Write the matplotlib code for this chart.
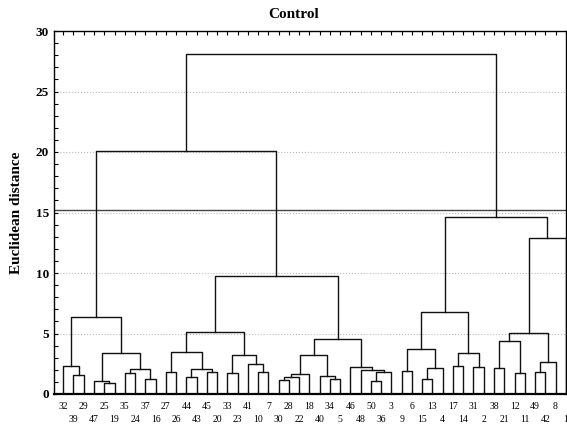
import matplotlib.pyplot as plt
from matplotlib.ticker import MultipleLocator

plt.rcParams['font.family'] = ['Liberation Serif', 'DejaVu Serif']

# case numbers in the order they sit along the x axis
leaf_order = [32, 39, 29, 47, 25, 19, 35, 24, 37, 16,
              27, 26, 44, 43, 45, 20, 33, 23, 41, 10,
              7, 30, 28, 22, 18, 40, 34, 5, 46, 48,
              50, 36, 3, 9, 6, 15, 13, 4, 17, 14,
              31, 2, 38, 21, 12, 11, 49, 42, 8, 1]

# joining steps: left member, right member, linkage distance.
# members below 100 are case numbers, 100 + k is the cluster made in step k
join_left = [25, 47, 39, 32, 35, 37, 104, 101, 103,
             27, 44, 45, 110, 109, 33, 10, 41, 114, 113,
             30, 119, 120, 34, 40, 121, 50, 125, 48, 46, 124, 118, 108,
             9, 15, 133, 132, 17, 31, 136, 135, 38, 12, 140, 49, 143, 142, 145, 139, 131]
join_right = [19, 100, 29, 102, 24, 16, 105, 106, 107,
              26, 43, 20, 111, 112, 23, 7, 115, 116, 117,
              28, 22, 18, 5, 122, 123, 36, 3, 126, 127, 128, 129, 130,
              6, 13, 4, 134, 14, 2, 137, 138, 21, 11, 141, 42, 8, 144, 1, 146, 147]
join_dist = [0.94, 1.05, 1.55, 2.35, 1.71, 1.27, 2.04, 3.40, 6.35,
             1.79, 1.40, 1.79, 2.07, 3.44, 1.76, 1.79, 2.45, 3.22, 5.15,
             1.16, 1.40, 1.62, 1.24, 1.49, 3.25, 1.08, 1.82, 2.00, 2.26, 4.52, 9.78, 20.08,
             1.87, 1.27, 2.18, 3.69, 2.31, 2.23, 3.36, 6.80, 2.15, 1.74, 4.38, 1.79, 2.64,
             5.01, 12.92, 14.63, 28.10]

cut_level = 15.2

fig = plt.figure(figsize=(5.67, 4.26), dpi=100)
ax = fig.add_axes([54 / 567, 32 / 426, 512 / 567, 363 / 426])

xpos = {leaf: i for i, leaf in enumerate(leaf_order)}
ypos = {leaf: 0.0 for leaf in leaf_order}
for k, (a, b, d) in enumerate(zip(join_left, join_right, join_dist)):
    xa, xb = xpos[a], xpos[b]
    ax.plot([xa, xa, xb, xb], [ypos[a], d, d, ypos[b]],
            color='#111111', lw=1.0, zorder=3)
    xpos[100 + k] = (xa + xb) / 2
    ypos[100 + k] = d

ax.axhline(cut_level, color='#444444', lw=1.0, zorder=2)
for g in range(5, 30, 5):
    ax.axhline(g, color='#bbbbbb', lw=0.8, ls=':', zorder=1)

ax.set_xlim(-0.9, 49.02)
ax.set_ylim(0, 30)

ax.yaxis.set_major_locator(MultipleLocator(5))
ax.yaxis.set_minor_locator(MultipleLocator(1))
ax.tick_params(axis='y', which='both', direction='in', length=3, width=0.8)
for lab in ax.get_yticklabels():
    lab.set_fontweight('bold')
    lab.set_fontsize(9.5)

ax.set_xticks(range(len(leaf_order)))
ax.set_xticklabels([str(v) for v in leaf_order], fontsize=7)
ax.tick_params(axis='x', direction='in', length=3, width=0.8, top=True)
for i, tick in enumerate(ax.xaxis.get_major_ticks()):
    tick.set_pad(5.5 if i % 2 == 0 else 15)

for side in ['left', 'right', 'top']:
    ax.spines[side].set_linewidth(1.0)
ax.spines['bottom'].set_linewidth(1.6)

ax.set_ylabel('Euclidean distance', fontsize=11, fontweight='bold', labelpad=9)
fig.text(294 / 567, 1 - 15 / 426, 'Control', ha='center', va='center',
         fontsize=11, fontweight='bold')

fig.savefig('out.png', dpi=100)
